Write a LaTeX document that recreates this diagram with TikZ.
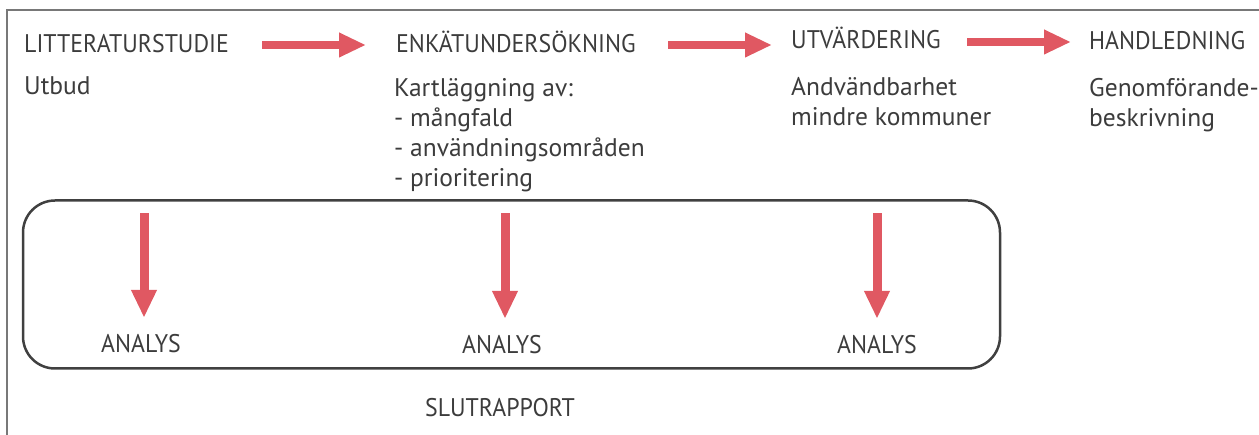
\documentclass[tikz,border=0pt]{standalone}
\usepackage{fontspec}
\setmainfont{PT Sans}
\newfontfamily\capsfont[FakeStretch=0.935]{PT Sans}
\usetikzlibrary{arrows.meta,calc}
\definecolor{txt}{RGB}{60,60,60}
\definecolor{arrred}{RGB}{224,88,98}
\definecolor{framegray}{RGB}{120,120,120}
\definecolor{boxgray}{RGB}{64,64,64}
\tikzset{
  title/.style={anchor=base west, inner sep=0pt, text=txt, font=\capsfont\fontsize{25.5}{30}\selectfont, text height=18pt, text depth=0pt},
  body/.style={anchor=base west, inner sep=0pt, text=txt, align=left, font=\fontsize{25.5}{30}\selectfont},
  analys/.style={anchor=base, inner sep=0pt, text=txt, font=\capsfont\fontsize{25.5}{30}\selectfont, text height=16pt, text depth=0pt},
  bigarrow/.style={draw=arrred, line width=8pt, -{Triangle[length=27pt,width=23pt]}},
  downarrow/.style={draw=arrred, line width=9pt, -{Triangle[length=28pt,width=24pt]}},
}
\begin{document}
\begin{tikzpicture}[x=1pt,y=-1pt]
\useasboundingbox (0,0) rectangle (1259,435);
% frame (extends past right and bottom edges)
\draw[framegray, line width=1.5pt] (7,440) -- (7,10) -- (1265,10);
% titles
\node[title] (lit) at (24,53) {LITTERATURSTUDIE};
\node[title] (enk) at (396,53) {ENKÄTUNDERSÖKNING};
\node[title] (utv) at (791,49) {UTVÄRDERING};
\node[title] (han) at (1089,50) {HANDLEDNING};
% bodies (base anchor = last line)
\node[body] (b1) at (24,95) {Utbud};
\node[body] (b2) at (394,187) {Kartläggning av:\\- mångfald\\- användningsområden\\- prioritering};
\node[body] (b3) at (791,126) {Andvändbarhet\\mindre kommuner};
\node[body] (b4) at (1089,127) {Genomförande-\\beskrivning};
% horizontal arrows
\draw[bigarrow] ($(enk.west)+(-134,1)$) -- ($(enk.west)+(-30,1)$);
\draw[bigarrow] ($(utv.west)+(-123,5)$) -- ($(utv.west)+(-19,5)$);
\draw[bigarrow] ($(han.west)+(-122,1)$) -- ($(han.west)+(-18,1)$);
% rounded box
\node[draw=boxgray, line width=2.5pt, rounded corners=32pt, minimum width=977pt, minimum height=168pt, inner sep=0pt] (box) at (511.5,284.5) {};
% analys
\node[analys] (an1) at (141,353) {ANALYS};
\node[analys] (an2) at (502,354) {ANALYS};
\node[analys] (an3) at (877,354) {ANALYS};
\draw[downarrow] ($(an1.north |- box.north)+(3,14)$) -- ($(an1.north)+(3,-19)$);
\draw[downarrow] ($(an2.north |- box.north)+(3,14)$) -- ($(an2.north)+(3,-19)$);
\draw[downarrow] ($(an3.north |- box.north)+(0,14)$) -- ($(an3.north)+(0,-19)$);
\node[analys] (slut) at (500,417) {SLUTRAPPORT};
\end{tikzpicture}
\end{document}
